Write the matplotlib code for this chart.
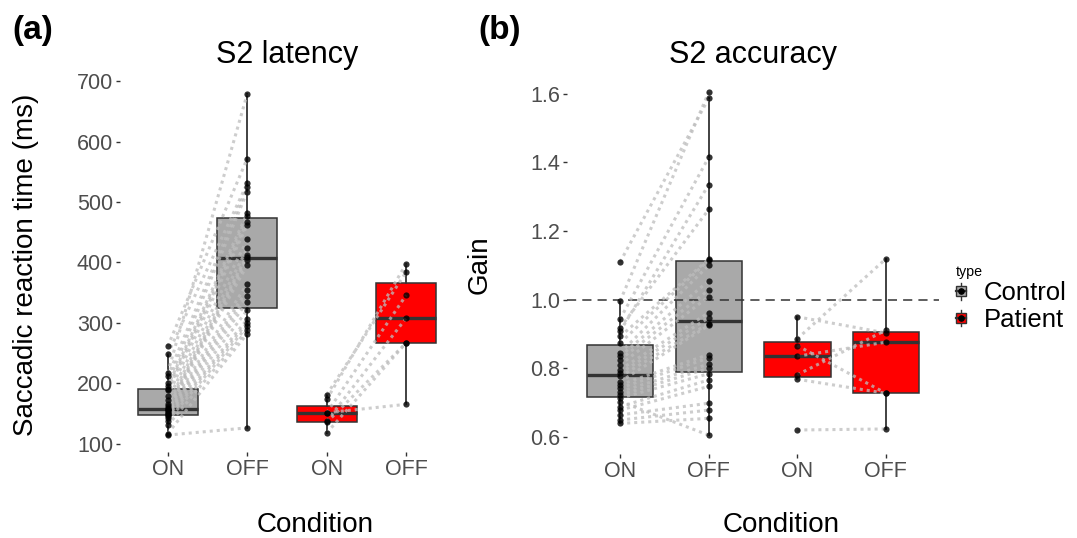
import numpy as np
import matplotlib
matplotlib.use("Agg")
import matplotlib.pyplot as plt
from matplotlib.patches import Patch, Rectangle
from matplotlib.lines import Line2D
from matplotlib.legend_handler import HandlerBase

plt.rcParams['font.family'] = ['Liberation Sans', 'DejaVu Sans']

# x categories (control ON/OFF, patient ON/OFF)
conditions = ["ON", "OFF", "ON", "OFF"]
types = ["Control", "Patient"]

# S2 latency (ms), paired per subject
lat_ctrl_on = [261, 248, 217, 211.5, 200, 195, 191, 188, 178, 172, 166, 162, 159,
               157, 156, 155, 152, 150, 149, 147, 145, 142, 137.5, 130, 116.5, 114]
lat_ctrl_off = [572, 531, 679, 525, 517, 481, 476, 467, 462, 438, 423, 412, 409,
                404, 396, 365, 354, 345, 335, 321, 305.5, 300, 294, 288, 282, 126]
lat_pat_on = [181, 173, 151, 151, 137, 135, 117.6]
lat_pat_off = [384.5, 398, 346, 165, 308, 267, 267]

# S2 accuracy (gain), paired per subject
gain_ctrl_on = [1.110, 0.996, 0.944, 0.918, 0.908, 0.893, 0.874, 0.845, 0.835,
                0.825, 0.810, 0.796, 0.786, 0.776, 0.761, 0.752, 0.742, 0.732,
                0.722, 0.713, 0.703, 0.688, 0.678, 0.664, 0.649, 0.639]
gain_ctrl_off = [1.587, 1.605, 1.415, 1.263, 1.335, 1.118, 1.115, 1.100, 1.055,
                 1.028, 1.009, 0.962, 0.947, 0.930, 0.925, 0.840, 0.830, 0.812,
                 0.800, 0.784, 0.605, 0.766, 0.747, 0.698, 0.678, 0.654]
gain_pat_on = [0.950, 0.886, 0.866, 0.835, 0.781, 0.768, 0.620]
gain_pat_off = [0.903, 1.119, 0.727, 0.876, 0.911, 0.727, 0.623]

GREY = "#A9A9A9"
RED = "#FF0000"
EDGE = "#333333"


class BoxKey(HandlerBase):
    def create_artists(self, legend, orig_handle, xdescent, ydescent,
                       width, height, fontsize, trans):
        cx = width / 2 - xdescent
        cy = height / 2 - ydescent
        bw, bh, wh = width, 7.2, 12.0
        whisk = Line2D([cx, cx], [cy - wh / 2, cy + wh / 2], color=EDGE, lw=1.0, transform=trans)
        box = Rectangle((cx - bw / 2, cy - bh / 2), bw, bh, facecolor=orig_handle.get_facecolor(),
                        edgecolor=EDGE, lw=1.0, transform=trans)
        med = Line2D([cx - bw / 2, cx + bw / 2], [cy, cy], color=EDGE, lw=1.6, transform=trans)
        dot = Line2D([cx], [cy], marker='o', ms=3.8, color='black', transform=trans)
        return [whisk, box, med, dot]


def panel(ax, c_on, c_off, p_on, p_off):
    groups = [c_on, c_off, p_on, p_off]
    pos = [1, 2, 3, 4]
    bp = ax.boxplot(groups, positions=pos, widths=0.75, patch_artist=True,
                    showfliers=False, showcaps=False, whis=1.5,
                    boxprops=dict(edgecolor=EDGE, lw=1.1),
                    whiskerprops=dict(color=EDGE, lw=1.3),
                    medianprops=dict(color=EDGE, lw=2.4, solid_capstyle='butt'))
    for patch, col in zip(bp['boxes'], [GREY, GREY, RED, RED]):
        patch.set_facecolor(col)
    for on, off, x0 in [(c_on, c_off, 1), (p_on, p_off, 3)]:
        for a, b in zip(on, off):
            ax.plot([x0, x0 + 1], [a, b], color="#BDBDBD", alpha=0.75, lw=2.2,
                    ls=(0, (1, 1.3)), zorder=3)
    for x, vals in zip(pos, groups):
        ax.scatter(np.full(len(vals), x), vals, s=20, color='black', alpha=0.8,
                   linewidths=0, zorder=4)
    ax.set_xlim(0.4, 4.6)
    ax.set_xticks(pos)
    ax.set_xticklabels(conditions)
    for s in ax.spines.values():
        s.set_visible(False)
    ax.tick_params(length=3, width=1, color=EDGE, labelcolor="#4D4D4D",
                   labelsize=15.5, pad=2)


fig = plt.figure(figsize=(10.77, 5.38), dpi=100)
W, H = 1077, 538
ax1 = fig.add_axes([120 / W, 1 - 452 / H, 334 / W, 375 / H])
ax2 = fig.add_axes([567 / W, 1 - 454 / H, 372 / W, 379 / H])

panel(ax1, lat_ctrl_on, lat_ctrl_off, lat_pat_on, lat_pat_off)
ax1.set_ylim(86, 707)
ax1.set_yticks([100, 200, 300, 400, 500, 600, 700])
ax1.set_title("S2 latency", fontsize=22, pad=10)
ax1.set_ylabel("Saccadic reaction time (ms)", fontsize=20, va='center')
ax1.yaxis.set_label_coords(-0.281, 0.5)
ax1.set_xlabel("Condition", fontsize=20, va='center')
ax1.xaxis.set_label_coords(0.584, -0.195)

ax2.axhline(1.0, color=EDGE, lw=1.1, ls=(0, (6, 4)), zorder=2.5)
panel(ax2, gain_ctrl_on, gain_ctrl_off, gain_pat_on, gain_pat_off)
ax2.set_ylim(0.55, 1.655)
ax2.set_yticks([0.6, 0.8, 1.0, 1.2, 1.4, 1.6])
ax2.set_yticklabels(["0.6", "0.8", "1.0", "1.2", "1.4", "1.6"])
ax2.set_title("S2 accuracy", fontsize=22, pad=8.6)
ax2.set_ylabel("Gain", fontsize=20, va='center')
ax2.yaxis.set_label_coords(-0.234, 0.5)
ax2.set_xlabel("Condition", fontsize=20, va='center')
ax2.xaxis.set_label_coords(0.575, -0.188)

fig.text(12 / W, 1 - 39 / H, "(a)", fontsize=24, fontweight='bold', va='baseline')
fig.text(478 / W, 1 - 39 / H, "(b)", fontsize=24, fontweight='bold', va='baseline')

handles = [Patch(facecolor=GREY), Patch(facecolor=RED)]
leg = fig.legend(handles, types, handler_map={Patch: BoxKey()}, title="type",
                 loc='upper left', bbox_to_anchor=(943 / W, 1 - 252 / H),
                 frameon=False, fontsize=18.5, title_fontsize=10.3,
                 handlelength=0.4, handleheight=0.7, handletextpad=0.7,
                 labelspacing=0.1, borderpad=0, alignment='left')

fig.savefig("out.png", dpi=100, facecolor='white')
